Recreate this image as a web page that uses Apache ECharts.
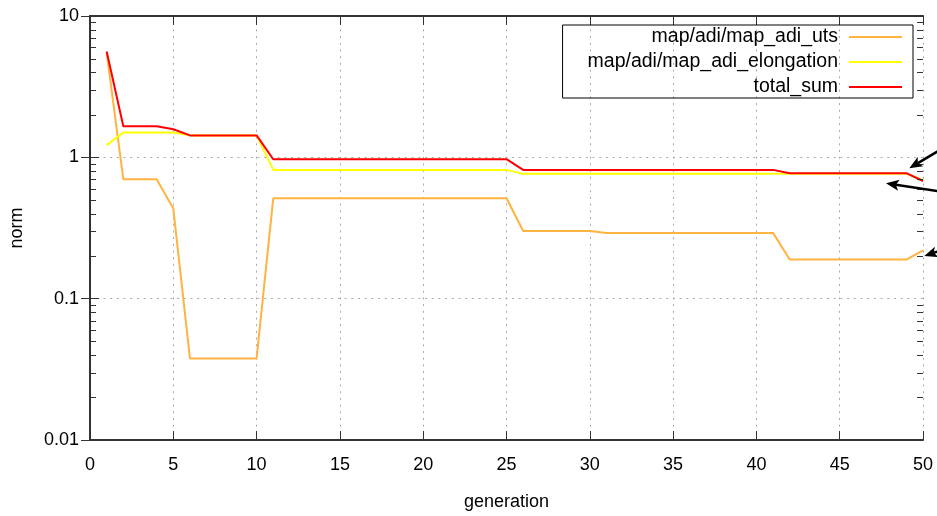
<!DOCTYPE html>
<html><head><meta charset="utf-8">
<script src="https://cdn.jsdelivr.net/npm/echarts@6/dist/echarts.min.js"></script>
<style>html,body{margin:0;padding:0;background:#fff}#c{width:937px;height:516px}</style>
</head><body><div id="c"></div>
<script>
const generations = [];
for (let i = 1; i <= 50; i++) generations.push(i);

const utsValues = [5.5, 0.70, 0.70, 0.70, 0.434,
  0.0378, 0.0378, 0.0378, 0.0378, 0.0378,
  0.513, 0.513, 0.513, 0.513, 0.513, 0.513, 0.513, 0.513, 0.513, 0.513, 0.513, 0.513, 0.513, 0.513, 0.513,
  0.301, 0.301, 0.301, 0.301, 0.301,
  0.292, 0.292, 0.292, 0.292, 0.292, 0.292, 0.292, 0.292, 0.292, 0.292, 0.292,
  0.189, 0.189, 0.189, 0.189, 0.189, 0.189, 0.189, 0.189,
  0.22];
const elongationValues = [1.22, 1.50, 1.50, 1.50, 1.50,
  1.43, 1.43, 1.43, 1.43, 1.43,
  0.815, 0.815, 0.815, 0.815, 0.815, 0.815, 0.815, 0.815, 0.815, 0.815, 0.815, 0.815, 0.815, 0.815, 0.815,
  0.764, 0.764, 0.764, 0.764, 0.764, 0.764, 0.764, 0.764, 0.764, 0.764, 0.764, 0.764,
  0.764, 0.764, 0.764, 0.764, 0.764, 0.764, 0.764, 0.764, 0.764, 0.764, 0.764, 0.764,
  0.69];
const totalSumValues = [5.6, 1.66, 1.66, 1.66, 1.58,
  1.43, 1.43, 1.43, 1.43, 1.43,
  0.97, 0.97, 0.97, 0.97, 0.97, 0.97, 0.97, 0.97, 0.97, 0.97, 0.97, 0.97, 0.97, 0.97, 0.97,
  0.815, 0.815, 0.815, 0.815, 0.815, 0.815, 0.815, 0.815, 0.815, 0.815, 0.815, 0.815, 0.815, 0.815, 0.815, 0.815,
  0.772, 0.772, 0.772, 0.772, 0.772, 0.772, 0.772, 0.772,
  0.68];
const seriesNames = ['map/adi/map_adi_uts', 'map/adi/map_adi_elongation', 'total_sum'];
const yTickLabels = {0.01: '0.01', 0.1: '0.1', 1: '1', 10: '10'};
const xAxisName = 'generation';
const yAxisName = 'norm';
const minorTickFactors = [2, 3, 4, 5, 6, 7, 8, 9];
const minorTickDecades = [0.01, 0.1, 1];

// annotation arrows (pixel positions): [tail, tip]
const arrows = [
  [[945, 146.9], [909.3, 168.3]],
  [[945, 192.2], [886, 183.3]],
  [[945, 249], [924.3, 256]]
];

const FONT = 'Liberation Sans';
const axisCol = '#333';
const pairs = arr => arr.map((v, i) => [generations[i], v]);

const option = {
  animation: false,
  backgroundColor: '#fff',
  grid: {left: 90, right: 14, top: 16, bottom: 73},
  legend: {
    orient: 'vertical', right: 24, top: 25, align: 'right',
    icon: 'rect',
    itemWidth: 53, itemHeight: 2, itemGap: 5,
    padding: [2, 11, 1, 25],
    borderColor: '#000', borderWidth: 1,
    textStyle: {fontFamily: FONT, fontSize: 19.5, color: '#000', padding: [0, 6, 0, 0]},
    data: seriesNames
  },
  xAxis: [{
    type: 'value', min: 0, max: 50, interval: 5, position: 'bottom',
    name: xAxisName, nameLocation: 'middle', nameGap: 53,
    nameTextStyle: {fontFamily: FONT, fontSize: 18, color: '#000'},
    axisLine: {lineStyle: {color: axisCol, width: 2}},
    axisTick: {inside: true, length: 9, lineStyle: {color: axisCol, width: 1}},
    axisLabel: {fontFamily: FONT, fontSize: 18, color: '#000', margin: 16},
    splitLine: {show: true, lineStyle: {color: '#aaa', type: [2, 4.7], width: 1}}
  }, {
    type: 'value', min: 0, max: 50, interval: 5, position: 'top',
    axisLine: {lineStyle: {color: axisCol, width: 2}},
    axisTick: {inside: true, length: 9, lineStyle: {color: axisCol, width: 1}},
    axisLabel: {show: false}, splitLine: {show: false}
  }],
  yAxis: [{
    type: 'log', logBase: 10, min: 0.01, max: 10, interval: 1, position: 'left',
    name: yAxisName, nameLocation: 'middle', nameGap: 64, nameRotate: 90,
    nameTextStyle: {fontFamily: FONT, fontSize: 18, color: '#000'},
    axisLine: {show: true, lineStyle: {color: axisCol, width: 2}},
    axisTick: {show: true, inside: true, length: 9, lineStyle: {color: axisCol, width: 1}},
    axisLabel: {fontFamily: FONT, fontSize: 18, color: '#000', margin: 11,
      formatter: v => yTickLabels[+(+v).toPrecision(3)] || ''},
    splitLine: {show: true, lineStyle: {color: '#aaa', type: [2, 4.7], width: 1}}
  }, {
    type: 'log', logBase: 10, min: 0.01, max: 10, interval: 1, position: 'right',
    axisLine: {show: true, lineStyle: {color: axisCol, width: 2}},
    axisTick: {show: true, inside: true, length: 9, lineStyle: {color: axisCol, width: 1}},
    axisLabel: {show: false}, splitLine: {show: false}
  }],
  series: [
    {name: seriesNames[0], type: 'line', data: pairs(utsValues), showSymbol: false, symbol: 'none',
      lineStyle: {color: '#ffb340', width: 2}, itemStyle: {color: '#ffb340'}, z: 2},
    {name: seriesNames[1], type: 'line', data: pairs(elongationValues), showSymbol: false, symbol: 'none',
      lineStyle: {color: '#ffff00', width: 2}, itemStyle: {color: '#ffff00'}, z: 3},
    {name: seriesNames[2], type: 'line', data: pairs(totalSumValues), showSymbol: false, symbol: 'none',
      lineStyle: {color: '#ff0000', width: 2}, itemStyle: {color: '#ff0000'}, z: 4}
  ]
};

const chart = echarts.init(document.getElementById('c'));
chart.setOption(option);

const g = [];
const xL = chart.convertToPixel({xAxisIndex: 0}, 0);
const xR = chart.convertToPixel({xAxisIndex: 0}, 50);
minorTickDecades.forEach(d => {
  minorTickFactors.forEach(k => {
    const y = Math.round(chart.convertToPixel({yAxisIndex: 0}, k * d)) + 0.5;
    g.push({type: 'line', silent: true, z: 10, shape: {x1: xL, y1: y, x2: xL + 6, y2: y}, style: {stroke: axisCol, lineWidth: 1}});
    g.push({type: 'line', silent: true, z: 10, shape: {x1: xR, y1: y, x2: xR - 6, y2: y}, style: {stroke: axisCol, lineWidth: 1}});
  });
});
arrows.forEach(([tail, tip]) => {
  const dx = tip[0] - tail[0], dy = tip[1] - tail[1];
  const L = Math.hypot(dx, dy), ux = dx / L, uy = dy / L;
  const hl = 13, hw = 5.5;
  const bx = tip[0] - ux * hl, by = tip[1] - uy * hl;
  g.push({type: 'line', silent: true, z: 20, shape: {x1: tail[0], y1: tail[1], x2: bx + ux * 3, y2: by + uy * 3}, style: {stroke: '#000', lineWidth: 2.5}});
  g.push({type: 'polygon', silent: true, z: 20, shape: {points: [tip, [bx - uy * hw, by + ux * hw], [bx + ux * 3, by + uy * 3], [bx + uy * hw, by - ux * hw]]}, style: {fill: '#000'}});
});
chart.setOption({graphic: g});
</script>
</body></html>
